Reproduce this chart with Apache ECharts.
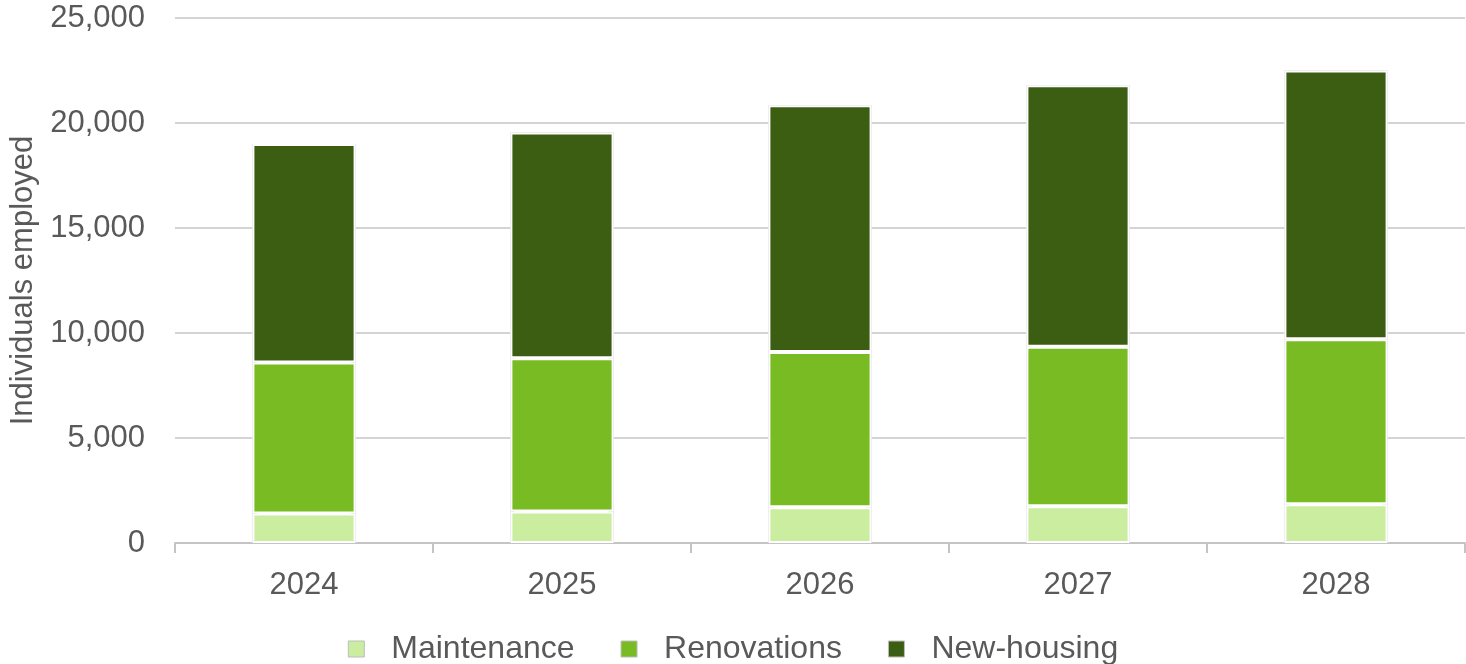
<!DOCTYPE html>
<html>
<head>
<meta charset="utf-8">
<style>
  html, body { margin: 0; padding: 0; background: #fff; }
  #chart { width: 1466px; height: 664px; }
</style>
<script src="https://cdn.jsdelivr.net/npm/echarts@6/dist/echarts.min.js"></script>
</head>
<body>
<div id="chart"></div>
<script>
// Employment by work type, stacked per year
const years = ['2024', '2025', '2026', '2027', '2028'];
const maintenance = [1400, 1500, 1700, 1750, 1850];
const renovations = [7200, 7300, 7400, 7600, 7850];
const newHousing = [10400, 10750, 11750, 12450, 12800];

// Stack totals, used for the thin outline around each column
const totals = years.map((_, i) => maintenance[i] + renovations[i] + newHousing[i]);

const textColor = '#595959';
const font = 'Liberation Sans, Arial, sans-serif';

const chart = echarts.init(document.getElementById('chart'));

const segment = (name, data, color) => ({
  name,
  type: 'bar',
  stack: 'jobs',
  data,
  barWidth: '40%',
  barGap: '-100%',
  itemStyle: { color, borderColor: '#ffffff', borderWidth: 2 },
  emphasis: { disabled: true }
});

chart.setOption({
  animation: false,
  grid: { left: 175, right: 1, top: 18, bottom: 121, containLabel: false, outerBoundsMode: 'none' },
  legend: {
    data: ['Maintenance', 'Renovations', 'New-housing'],
    bottom: -6,
    left: 'center',
    itemWidth: 16,
    itemHeight: 16,
    itemGap: 46,
    icon: 'rect',
    itemStyle: { borderColor: '#bdbdbd', borderWidth: 1 },
    textStyle: { color: textColor, fontSize: 32, fontFamily: font, padding: [0, 0, 0, 22] }
  },
  xAxis: {
    type: 'category',
    data: years,
    axisLine: { lineStyle: { color: '#c4c4c4', width: 2 } },
    axisTick: { show: true, length: 10, lineStyle: { color: '#c4c4c4', width: 2 } },
    axisLabel: { color: textColor, fontSize: 31, fontFamily: font, margin: 27 }
  },
  yAxis: {
    type: 'value',
    min: 0,
    max: 25000,
    interval: 5000,
    name: 'Individuals employed',
    nameLocation: 'middle',
    nameGap: 136,
    nameTextStyle: { color: textColor, fontSize: 31, fontFamily: font },
    axisLine: { show: false },
    axisTick: { show: false },
    splitLine: { lineStyle: { color: '#d4d4d4', width: 2 } },
    axisLabel: {
      color: textColor,
      fontSize: 31,
      fontFamily: font,
      margin: 30,
      formatter: v => v.toLocaleString('en-US')
    }
  },
  series: [
    {
      name: 'outline',
      type: 'bar',
      data: totals,
      barWidth: '40%',
      barGap: '-100%',
      silent: true,
      itemStyle: { color: '#ffffff', borderColor: '#bdbdbd', borderWidth: 5 },
      emphasis: { disabled: true }
    },
    segment('Maintenance', maintenance, '#cbeda0'),
    segment('Renovations', renovations, '#78bb22'),
    segment('New-housing', newHousing, '#3c5e12')
  ]
});
</script>
</body>
</html>
